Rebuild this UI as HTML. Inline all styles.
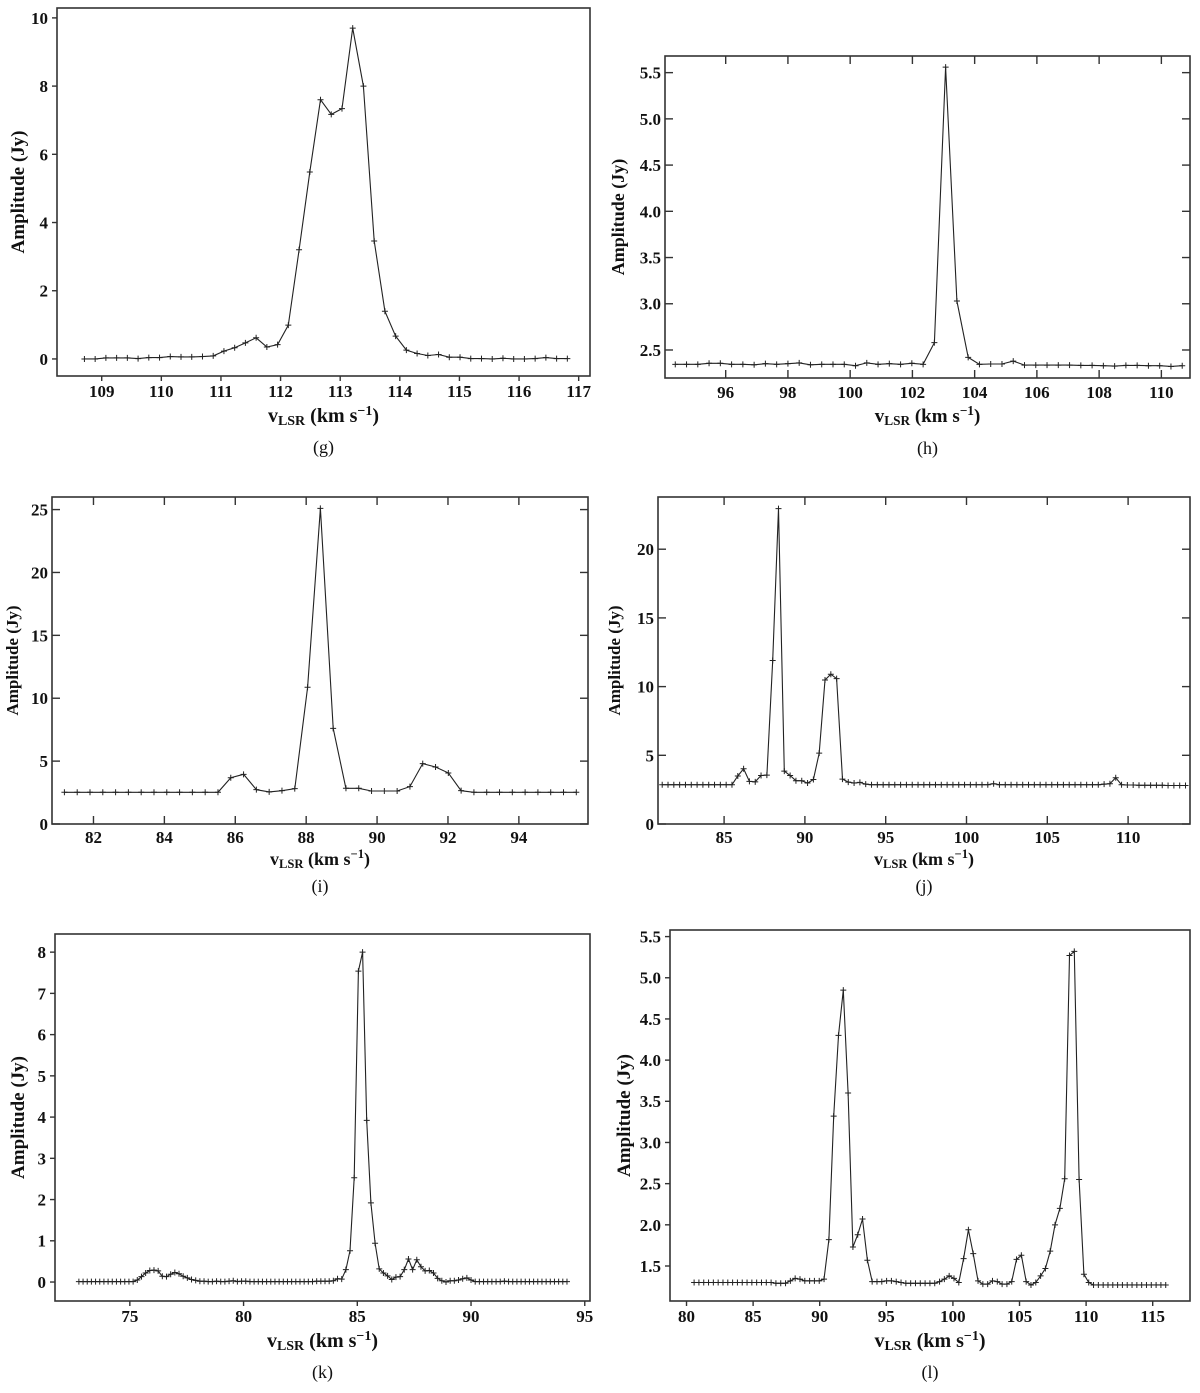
<!DOCTYPE html>
<html><head><meta charset="utf-8"><style>
html,body{margin:0;padding:0;background:#fff}
svg text{font-family:"Liberation Serif",serif}
</style></head><body>
<svg id="fig" width="1200" height="1388" viewBox="0 0 1200 1388" xmlns="http://www.w3.org/2000/svg"></svg>
<script>
// ---- Panel data (velocity grids given by first channel + channel width) ----
const gStart = 108.71, gStep = 0.180;
const gAmp = [0,0,0.03,0.03,0.03,0.01,0.04,0.04,0.07,0.06,0.06,0.07,0.09,0.23,0.33,0.47,0.62,0.35,0.42,0.99,3.2,5.48,7.6,7.17,7.34,9.7,8.0,3.46,1.4,0.67,0.26,0.16,0.1,0.13,0.05,0.05,0.01,0.01,0,0.02,0,0,0.01,0.04,0.01,0.01];
const gXTicks = [109,110,111,112,113,114,115,116,117];
const gYTicks = [0,2,4,6,8,10];

const hStart = 94.38, hStep = 0.362;
const hAmp = [2.345,2.345,2.345,2.356,2.356,2.345,2.345,2.34,2.352,2.345,2.352,2.36,2.34,2.345,2.345,2.345,2.33,2.36,2.345,2.352,2.345,2.356,2.345,2.58,5.56,3.03,2.42,2.345,2.348,2.348,2.38,2.336,2.336,2.336,2.336,2.336,2.333,2.333,2.33,2.326,2.333,2.333,2.33,2.33,2.322,2.33];
const hXTicks = [96,98,100,102,104,106,108,110];
const hYTicks = [2.5,3.0,3.5,4.0,4.5,5.0,5.5];

const iStart = 81.18, iStep = 0.361;
const iAmp = [2.52,2.52,2.52,2.52,2.52,2.52,2.52,2.52,2.52,2.52,2.52,2.52,2.52,3.68,3.95,2.73,2.55,2.65,2.81,10.87,25.1,7.6,2.84,2.84,2.62,2.62,2.62,2.97,4.8,4.53,4.06,2.65,2.52,2.52,2.52,2.52,2.52,2.52,2.52,2.52,2.52];
const iXTicks = [82,84,86,88,90,92,94];
const iYTicks = [0,5,10,15,20,25];

const jStart = 81.17, jStep = 0.3598;
const jAmp = [2.86,2.86,2.86,2.86,2.86,2.86,2.86,2.86,2.86,2.86,2.86,2.86,2.86,3.49,4.02,3.1,3.07,3.53,3.56,11.9,22.95,3.85,3.53,3.15,3.15,2.98,3.24,5.16,10.48,10.9,10.58,3.27,3.05,2.98,3.03,2.9,2.86,2.86,2.86,2.86,2.86,2.86,2.86,2.86,2.86,2.86,2.86,2.86,2.86,2.86,2.86,2.86,2.86,2.86,2.86,2.86,2.86,2.93,2.86,2.86,2.86,2.86,2.86,2.86,2.86,2.86,2.86,2.86,2.86,2.86,2.86,2.86,2.86,2.86,2.86,2.86,2.9,2.93,3.37,2.86,2.84,2.84,2.82,2.82,2.82,2.82,2.82,2.8,2.8,2.8,2.8];
const jXTicks = [85,90,95,100,105,110];
const jYTicks = [0,5,10,15,20];

const kStart = 72.76, kStep = 0.1834;
const kAmp = [0.01,0.01,0.01,0.01,0.01,0.01,0.01,0.01,0.01,0.01,0.01,0.01,0.01,0.01,0.05,0.13,0.22,0.28,0.29,0.27,0.14,0.13,0.19,0.23,0.2,0.14,0.1,0.06,0.04,0.02,0.02,0.01,0.01,0.02,0.01,0.01,0.02,0.03,0.01,0.02,0.02,0.01,0.01,0.01,0.01,0.01,0.01,0.01,0.01,0.01,0.01,0.01,0.01,0.01,0.01,0.01,0.01,0.02,0.02,0.02,0.02,0.03,0.08,0.07,0.3,0.76,2.53,7.54,8.0,3.92,1.92,0.94,0.32,0.22,0.15,0.06,0.12,0.13,0.3,0.56,0.3,0.54,0.37,0.27,0.28,0.22,0.09,0.03,0.0,0.03,0.03,0.05,0.08,0.1,0.05,0.01,0.01,0.01,0.01,0.01,0.01,0.01,0.02,0.01,0.01,0.01,0.01,0.01,0.01,0.01,0.01,0.01,0.01,0.01,0.01,0.01,0.01,0.01];
const kXTicks = [75,80,85,90,95];
const kYTicks = [0,1,2,3,4,5,6,7,8];

const lStart = 80.57, lStep = 0.3613;
const lAmp = [1.3,1.3,1.3,1.3,1.3,1.3,1.3,1.3,1.3,1.3,1.3,1.3,1.3,1.3,1.3,1.3,1.3,1.29,1.29,1.29,1.32,1.35,1.34,1.32,1.32,1.32,1.32,1.34,1.82,3.32,4.3,4.85,3.6,1.73,1.88,2.07,1.57,1.31,1.31,1.31,1.32,1.32,1.31,1.3,1.29,1.29,1.29,1.29,1.29,1.29,1.29,1.31,1.34,1.38,1.35,1.3,1.59,1.94,1.65,1.32,1.28,1.28,1.32,1.31,1.28,1.28,1.31,1.58,1.63,1.31,1.27,1.3,1.38,1.47,1.68,2.0,2.2,2.56,5.27,5.32,2.55,1.4,1.3,1.27,1.27,1.27,1.27,1.27,1.27,1.27,1.27,1.27,1.27,1.27,1.27,1.27,1.27,1.27,1.27];
const lXTicks = [80,85,90,95,100,105,110,115];
const lYTicks = [1.5,2.0,2.5,3.0,3.5,4.0,4.5,5.0,5.5];

const NS = "http://www.w3.org/2000/svg";
const svg = document.getElementById('fig');
function mk(tag, attrs, parent){ const e=document.createElementNS(NS,tag); for(const k in attrs) e.setAttribute(k,attrs[k]); (parent||svg).appendChild(e); return e; }

function panel(o){
  const g = mk('g',{});
  
  
  const L=o.box[0],T=o.box[1],R=o.box[2],B=o.box[3];
  const sx = v => L + (v - o.xr[0])/(o.xr[1]-o.xr[0])*(R-L);
  const sy = v => B - (v - o.yr[0])/(o.yr[1]-o.yr[0])*(B-T);
  const frame = mk('rect',{x:L,y:T,width:R-L,height:B-T,fill:'none',stroke:'#333','stroke-width':1.6},g);
  
  
  const tl = o.inward ? 8 : -5;
  o.xt.forEach(v=>{
    const x=sx(v);
    mk('line',{x1:x,y1:B,x2:x,y2:B-tl,stroke:'#333','stroke-width':1.4},g);
    if(o.inward) mk('line',{x1:x,y1:T,x2:x,y2:T+tl,stroke:'#333','stroke-width':1.4},g);
    const t=mk('text',{x:x,y:B+o.xlo,'text-anchor':'middle','font-size':o.fs,'font-weight':'bold',fill:'#111'},g);
    t.textContent=v;
    
    
  });
  o.yt.forEach(v=>{
    const y=sy(v);
    mk('line',{x1:L,y1:y,x2:L+tl,y2:y,stroke:'#333','stroke-width':1.4},g);
    if(o.inward) mk('line',{x1:R,y1:y,x2:R-tl,y2:y,stroke:'#333','stroke-width':1.4},g);
    const t=mk('text',{x:L-(o.inward?4:9),y:y+o.fs*0.35,'text-anchor':'end','font-size':o.fs,'font-weight':'bold',fill:'#111'},g);
    t.textContent=o.ydec? v.toFixed(1): v;
    
    
  });
  let d='';
  o.amp.forEach((a,i)=>{ const x=sx(o.start+i*o.step), y=sy(a); d+=(i?'L':'M')+x.toFixed(1)+' '+y.toFixed(1); });
  const line=mk('path',{d:d,fill:'none',stroke:'#222','stroke-width':1.1},g);
  
  
  o.amp.forEach((a,i)=>{
    const x=sx(o.start+i*o.step), y=sy(a);
    const m=mk('path',{d:`M${x-3} ${y}H${x+3}M${x} ${y-3}V${y+3}`,stroke:'#222','stroke-width':1},g);
    
    
  });
  const cx=(L+R)/2;
  const xt=mk('text',{x:cx,y:B+o.xto,'text-anchor':'middle','font-size':o.tfs,'font-weight':'bold',fill:'#111'},g);
  xt.innerHTML='v<tspan font-size="'+(o.tfs*0.7)+'" dy="3">LSR</tspan><tspan dy="-3"> (km s</tspan><tspan font-size="'+(o.tfs*0.7)+'" dy="-7">−1</tspan><tspan dy="7">)</tspan>';
  
  
  const yc=(T+B)/2;
  const yt=mk('text',{x:o.yx,y:yc,'text-anchor':'middle','font-size':o.tfs-1,'font-weight':'bold',fill:'#111',transform:`rotate(-90 ${o.yx} ${yc})`},g);
  yt.textContent='Amplitude (Jy)';
  
  
  const cap=mk('text',{x:cx,y:B+o.cap,'text-anchor':'middle','font-size':18,fill:'#111'},g);
  cap.textContent='('+o.id+')';
  
  
}

panel({id:'g',box:[57,8,590,376],xr:[108.25,117.19],yr:[-0.5,10.29],xt:gXTicks,yt:gYTicks,amp:gAmp,start:gStart,step:gStep,inward:false,fs:17,tfs:20,xlo:21,xto:46,cap:77,yx:24,ydec:false});
panel({id:'h',box:[665,56,1190,378],xr:[94.05,110.92],yr:[2.197,5.68],xt:hXTicks,yt:hYTicks,amp:hAmp,start:hStart,step:hStep,inward:true,fs:17,tfs:19,xlo:20,xto:44,cap:76,yx:624,ydec:true});
panel({id:'i',box:[52,497,588,824],xr:[80.83,95.95],yr:[0,26.0],xt:iXTicks,yt:iYTicks,amp:iAmp,start:iStart,step:iStep,inward:true,fs:17,tfs:18,xlo:19,xto:41,cap:68,yx:18,ydec:false});
panel({id:'j',box:[658,497,1190,824],xr:[80.91,113.83],yr:[0,23.8],xt:jXTicks,yt:jYTicks,amp:jAmp,start:jStart,step:jStep,inward:true,fs:17,tfs:18,xlo:19,xto:41,cap:68,yx:620,ydec:false});
panel({id:'k',box:[55,934,590,1301],xr:[71.71,95.23],yr:[-0.46,8.44],xt:kXTicks,yt:kYTicks,amp:kAmp,start:kStart,step:kStep,inward:false,fs:17,tfs:20,xlo:21,xto:46,cap:77,yx:24,ydec:false});
panel({id:'l',box:[670,930,1190,1301],xr:[78.76,117.8],yr:[1.075,5.58],xt:lXTicks,yt:lYTicks,amp:lAmp,start:lStart,step:lStep,inward:false,fs:17,tfs:20,xlo:21,xto:46,cap:77,yx:630,ydec:true});
</script>
</body></html>
